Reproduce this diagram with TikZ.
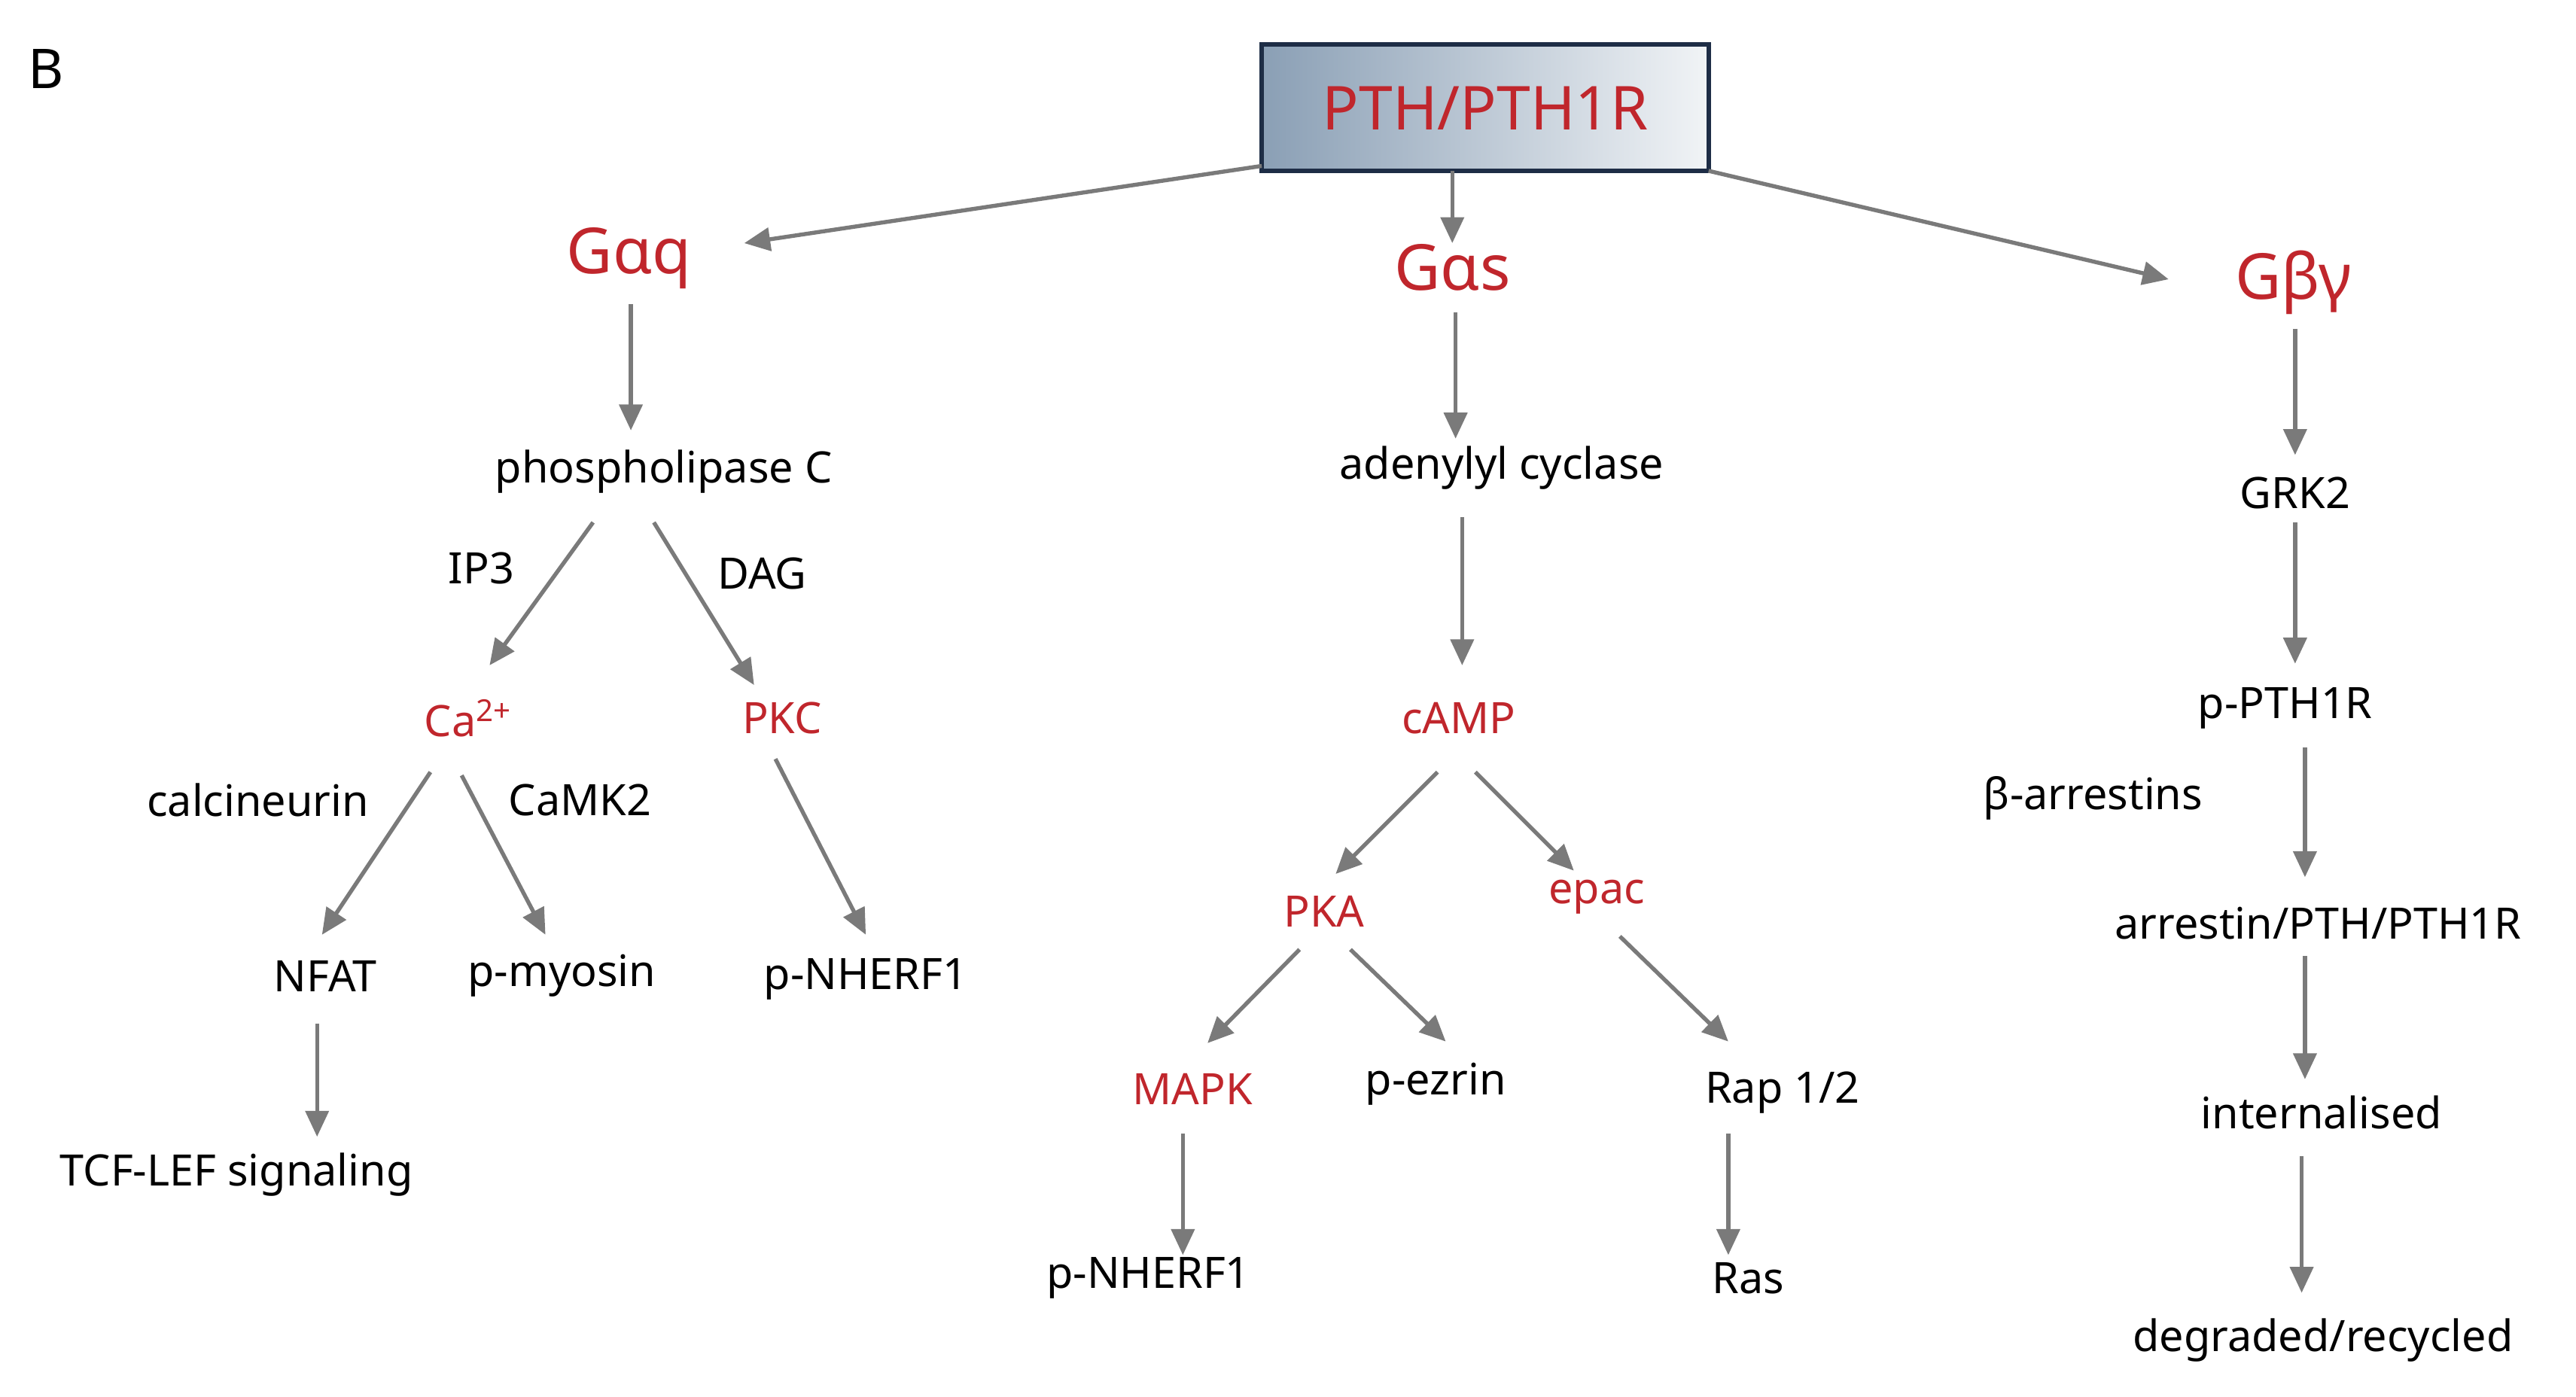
\documentclass[tikz,border=0pt]{standalone}
\usepackage{fontspec}
\setmainfont{Noto Sans}
\usetikzlibrary{arrows.meta}
\definecolor{tred}{HTML}{C0262C}
\definecolor{agray}{HTML}{7A7A7A}
\definecolor{boxdark}{HTML}{8A9FB5}
\definecolor{boxline}{HTML}{1E2D46}
\tikzset{
  txt/.style={font=\fontsize{15}{18}\selectfont, text=black, inner sep=1pt},
  rtxt/.style={font=\fontsize{15}{18}\selectfont, text=tred, inner sep=1pt},
  big/.style={font=\fontsize{22}{26}\selectfont\bfseries, text=tred, inner sep=1pt},
  arr/.style={draw=agray, line width=1.4pt, -{Triangle[length=9pt,width=8pt]}}
}
\begin{document}
\begin{tikzpicture}[x=0.02cm,y=-0.02cm]
\useasboundingbox (0,0) rectangle (1568,850);
\node[font=\fontsize{19}{22}\selectfont\bfseries] (B) at (28,42) {B};
\shade[left color=boxdark, right color=boxdark!12] (768,27) rectangle (1040,104);
\draw[draw=boxline, line width=1.6pt] (768,27) rectangle (1040,104);
\node[font=\fontsize{21}{24}\selectfont, text=tred] (top) at (904,66) {PTH/PTH1R};
\node[big] (gaq) at (383,157) {Gαq};
\node[big] (gas) at (884,163) {Gαs};
\node[big] (gby) at (1396,172) {Gβγ};
\node[txt] (plc) at (404,287) {phospholipase C};
\node[txt] (ac) at (914,285) {adenylyl cyclase};
\node[txt] (grk) at (1397,300) {GRK2};
\node[txt] (ip3) at (293,346) {IP3};
\node[txt] (dag) at (464,349) {DAG};
\node[rtxt] (ca) at (285,437) {Ca\textsuperscript{2+}};
\node[rtxt] (pkc) at (476,437) {PKC};
\node[txt] (cal) at (157,487) {calcineurin};
\node[txt] (camk) at (353,487) {CaMK2};
\node[txt] (nfat) at (198,594) {NFAT};
\node[txt] (pmy) at (342,594) {p-myosin};
\node[txt] (pnh1) at (527,596) {p-NHERF1};
\node[txt] (tcf) at (144,715) {TCF-LEF signaling};
\node[rtxt] (camp) at (888,437) {cAMP};
\node[rtxt] (pka) at (806,555) {PKA};
\node[rtxt] (epac) at (972,546) {epac};
\node[rtxt] (mapk) at (726,663) {MAPK};
\node[txt] (pez) at (874,660) {p-ezrin};
\node[txt] (rap) at (1085,665) {Rap 1/2};
\node[txt] (pnh2) at (699,778) {p-NHERF1};
\node[txt] (ras) at (1064,778) {Ras};
\node[txt] (pp) at (1391,431) {p-PTH1R};
\node[txt] (barr) at (1274,486) {β-arrestins};
\node[txt] (arr) at (1411,562) {arrestin/PTH/PTH1R};
\node[txt] (intl) at (1413,677) {internalised};
\node[txt] (deg) at (1414,816) {degraded/recycled};
\draw[arr] (768,101) -- (453,148);
\draw[arr] (884,104) -- (884,148);
\draw[arr] (1040,104) -- (1320,170);
\draw[arr] (384,185) -- (384,262);
\draw[arr] (361,318) -- (298,405);
\draw[arr] (398,318) -- (459,417);
\draw[arr] (262,470) -- (196,569);
\draw[arr] (281,472) -- (332,569);
\draw[arr] (472,462) -- (527,569);
\draw[arr] (193,623) -- (193,692);
\draw[arr] (886,190) -- (886,267);
\draw[arr] (890,315) -- (890,405);
\draw[arr] (875,470) -- (813,532);
\draw[arr] (898,470) -- (958,530);
\draw[arr] (791,578) -- (735,635);
\draw[arr] (822,578) -- (880,634);
\draw[arr] (986,570) -- (1052,634);
\draw[arr] (720,690) -- (720,764);
\draw[arr] (1052,690) -- (1052,764);
\draw[arr] (1397,200) -- (1397,277);
\draw[arr] (1397,318) -- (1397,404);
\draw[arr] (1403,455) -- (1403,534);
\draw[arr] (1403,582) -- (1403,657);
\draw[arr] (1401,704) -- (1401,787);
\end{tikzpicture}
\end{document}
